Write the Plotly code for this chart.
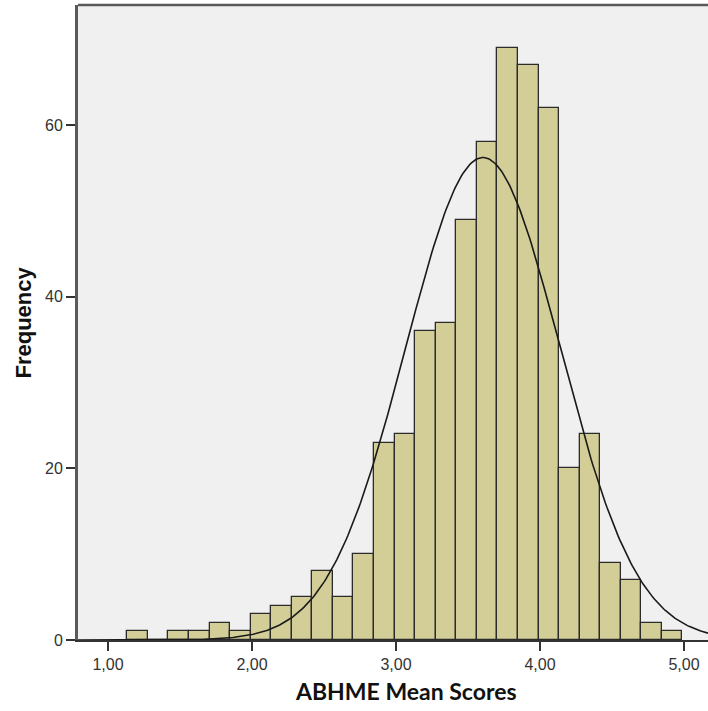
import numpy as np
import plotly.graph_objects as go

# Histogram data
bin_start = 1.134
bin_width = 0.1428
counts = [1, 0, 1, 1, 2, 1, 3, 4, 5, 8, 5, 10, 23, 24, 36, 37, 49, 58, 69, 67, 62, 20, 24, 9, 7, 2, 1]

# Fitted normal curve parameters
mean_score = 3.604
sd_score = 0.536

x_tick_vals = [1, 2, 3, 4, 5]
x_tick_text = ["1,00", "2,00", "3,00", "4,00", "5,00"]
y_tick_vals = [0, 20, 40, 60]

n_total = sum(counts)
centers = [bin_start + bin_width * (i + 0.5) for i in range(len(counts))]

xr = [0.792, 5.167]
xs = np.linspace(xr[0], xr[1], 400)
ys = n_total * bin_width / (sd_score * np.sqrt(2 * np.pi)) * np.exp(-0.5 * ((xs - mean_score) / sd_score) ** 2)

fig = go.Figure()
fig.add_trace(go.Bar(
    x=centers, y=counts, width=bin_width,
    marker=dict(color="#D3CE97", line=dict(color="#2b2b2b", width=1.3)),
    hoverinfo="x+y",
))
fig.add_trace(go.Scatter(
    x=xs, y=ys, mode="lines",
    line=dict(color="#1a1a1a", width=1.6),
    hoverinfo="skip",
))

axis_col = "#5a5a5a"
L, T, W, H = 78, 5, 630, 635
fig.update_layout(
    width=708, height=711,
    margin=dict(l=L, r=0, t=T, b=711 - T - H),
    paper_bgcolor="white",
    plot_bgcolor="#F0F0F0",
    showlegend=False,
    bargap=0,
    font=dict(family="Liberation Sans, Arial, sans-serif", size=16, color="#333333"),
    xaxis=dict(
        range=xr, tickvals=x_tick_vals, ticktext=x_tick_text,
        ticks="outside", ticklen=9, tickwidth=1.5, tickcolor="#333333",
        showline=True, linecolor="#333333", linewidth=2,
        showgrid=False, zeroline=False,
        tickfont=dict(size=16, color="#333333"),
    ),
    yaxis=dict(
        range=[0, 74], tickvals=y_tick_vals,
        ticks="outside", ticklen=9, tickwidth=1.5, tickcolor="#333333",
        showline=True, linecolor=axis_col, linewidth=3,
        showgrid=False, zeroline=False,
        tickfont=dict(size=16, color="#333333"),
    ),
    shapes=[dict(type="line", xref="paper", yref="paper", x0=0, x1=1, y0=1, y1=1,
                 line=dict(color=axis_col, width=2.5))],
    annotations=[
        dict(text="<b>ABHME Mean Scores</b>", xref="paper", yref="paper",
             x=(406 - L) / W, y=-(691 - T - H) / H, xanchor="center", yanchor="middle",
             showarrow=False,
             font=dict(family="Lato, Open Sans, sans-serif", size=23, color="#111111")),
        dict(text="<b>Frequency</b>", xref="paper", yref="paper",
             x=-(L - 23) / W, y=(T + H - 322.5) / H, xanchor="center", yanchor="middle",
             textangle=-90, showarrow=False,
             font=dict(family="Liberation Sans, Arial, sans-serif", size=22, color="#111111")),
    ],
)

fig.write_html("out.html")
